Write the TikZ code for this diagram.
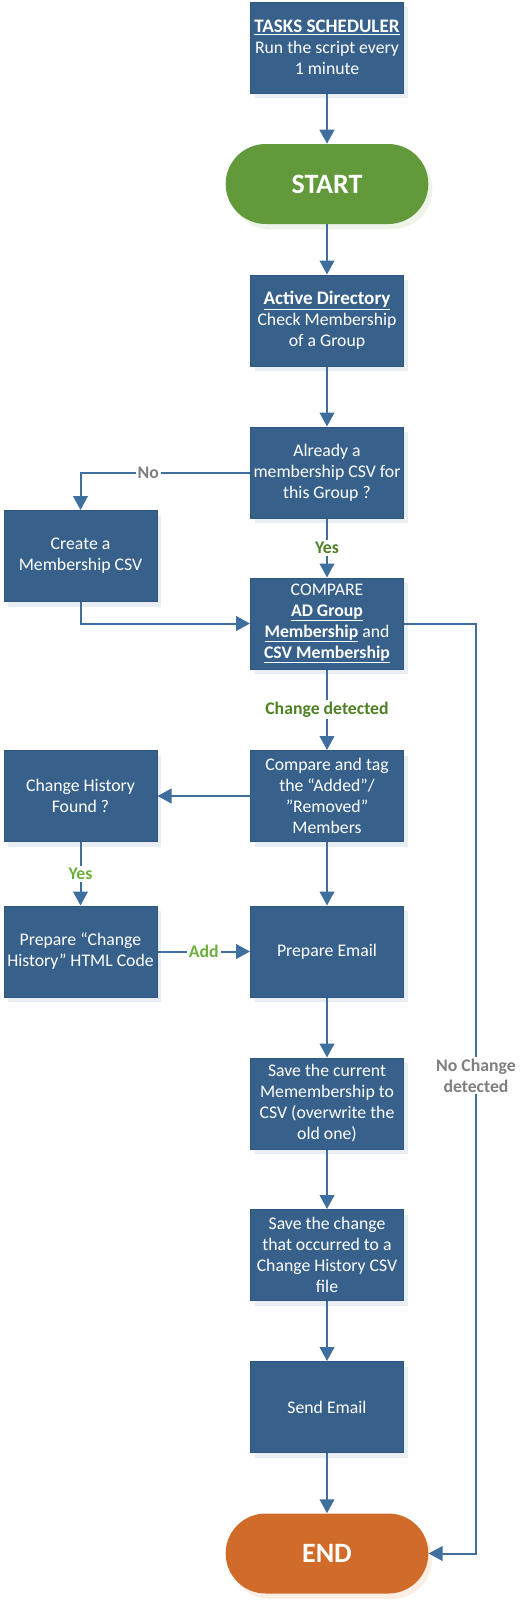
\documentclass[tikz,border=0pt]{standalone}
\usepackage{fontspec}
\setmainfont{Carlito}
\usetikzlibrary{arrows.meta,shadows,positioning}
\definecolor{boxblue}{HTML}{37618A}
\definecolor{boxline}{HTML}{2D5680}
\definecolor{flowblue}{HTML}{3E6F9F}
\definecolor{startgreen}{HTML}{629A3B}
\definecolor{endorange}{HTML}{D06B2A}
\definecolor{shadeblue}{HTML}{E9EEF4}
\definecolor{shadegreen}{HTML}{EEF4E8}
\definecolor{shadeorange}{HTML}{FBEEE4}
\definecolor{darkyes}{HTML}{4E8024}
\definecolor{lightyes}{HTML}{6CAF3A}
\definecolor{greylbl}{HTML}{7F7F7F}
\newcommand{\headline}[1]{{\fontsize{14.3}{15.75}\selectfont\bfseries\underline{#1}}}
\tikzset{
  stepbox/.style={draw=boxline,line width=0.75pt,fill=boxblue,text=white,align=center,
    minimum width=114.75pt,minimum height=68.25pt,inner sep=1pt,
    font=\fontsize{13.3}{15.75}\selectfont,
    general shadow={fill=shadeblue,shadow xshift=3pt,shadow yshift=-4pt}},
  terminal/.style={fill=#1,text=white,rounded corners=30pt,minimum width=152pt,minimum height=60pt,
    font=\fontsize{21}{24}\selectfont\bfseries},
  flow/.style={draw=flowblue,line width=1.5pt,-{Triangle[width=11pt,length=10.5pt]}},
  lbl/.style={fill=white,inner sep=1.5pt,align=center,font=\fontsize{13.3}{15.75}\selectfont\bfseries,text=#1}
}
\begin{document}
\begin{tikzpicture}[x=0.75pt,y=-0.75pt]
\useasboundingbox (0,0) rectangle (526,1600);
% main column
\node[stepbox] (tasks) at (327,47.5) {\headline{TASKS SCHEDULER}\\Run the script every\\1 minute};
\node[terminal=startgreen,general shadow={fill=shadegreen,shadow xshift=3pt,shadow yshift=-4pt}] (start) at (327,184) {START};
\node[stepbox] (addir) at (327,320.5) {\headline{Active Directory}\\Check Membership\\of a Group};
\node[stepbox] (csvq) at (327,472.5) {Already a\\membership CSV for\\this Group ?};
\node[stepbox] (cmp) at (327,623.5) {COMPARE\\\textbf{\underline{AD Group}}\\\textbf{\underline{Membership}} and\\\textbf{\underline{CSV Membership}}};
\node[stepbox] (tag) at (327,796) {Compare and tag\\the “Added”/\\”Removed”\\Members};
\node[stepbox] (mail) at (327,951.5) {Prepare Email};
\node[stepbox] (save) at (327,1103.5) {Save the current\\Memembership to\\CSV (overwrite the\\old one)};
\node[stepbox] (chg) at (327,1255) {Save the change\\that occurred to a\\Change History CSV\\file};
\node[stepbox] (send) at (327,1407) {Send Email};
\node[terminal=endorange,general shadow={fill=shadeorange,shadow xshift=3pt,shadow yshift=-4pt}] (end) at (327,1553.5) {END};
% left column
\node[stepbox] (mkcsv) at (80.5,556) {Create a\\Membership CSV};
\node[stepbox] (hist) at (80.5,796) {Change History\\Found ?};
\node[stepbox] (prep) at (80.5,951.5) {Prepare “Change\\History” HTML Code};
\coordinate (nochg) at (476,1553.5);
% connectors
\draw[flow] (tasks) -- (start);
\draw[flow] (start) -- (addir);
\draw[flow] (addir) -- (csvq);
\draw[flow] (csvq.west) -| node[lbl=greylbl,pos=0.3]{No} (mkcsv.north);
\draw[flow] (csvq) -- node[lbl=darkyes]{Yes} (cmp);
\draw[flow] (mkcsv.south) |- (cmp.west);
\draw[flow] (cmp) -- node[lbl=darkyes]{Change detected} (tag);
\draw[flow] (cmp.east) -| node[lbl=greylbl,pos=0.743]{No Change\\detected} (nochg) -- (end.east);
\draw[flow] (tag) -- (hist);
\draw[flow] (tag) -- (mail);
\draw[flow] (hist) -- node[lbl=lightyes]{Yes} (prep);
\draw[flow] (prep) -- node[lbl=lightyes]{Add} (mail);
\draw[flow] (mail) -- (save);
\draw[flow] (save) -- (chg);
\draw[flow] (chg) -- (send);
\draw[flow] (send) -- (end);
\end{tikzpicture}
\end{document}
